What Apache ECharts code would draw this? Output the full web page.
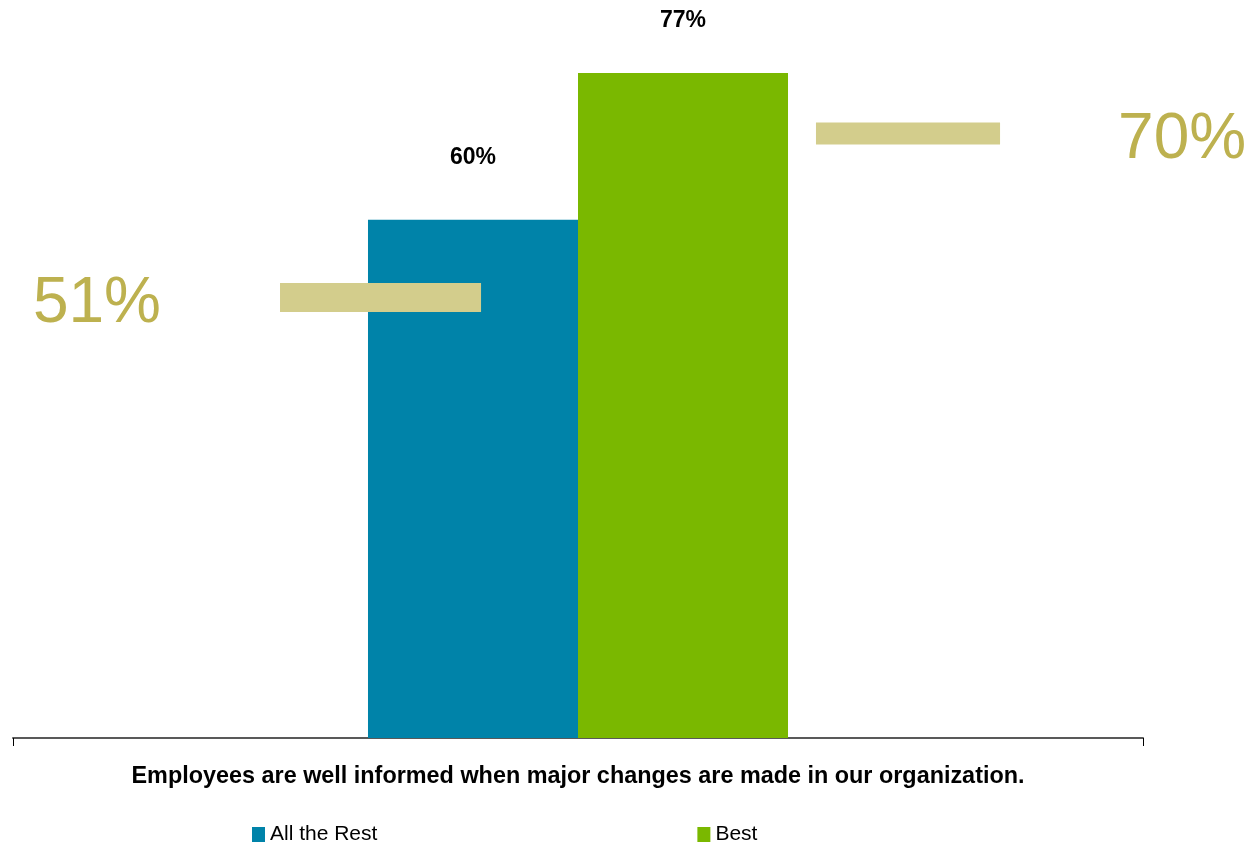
<!DOCTYPE html>
<html>
<head>
<meta charset="utf-8">
<title>Employees well informed</title>
<script src="https://cdn.jsdelivr.net/npm/echarts@6/dist/echarts.min.js"></script>
<style>
  html, body { margin: 0; padding: 0; background: #ffffff; }
  #chart { width: 1249px; height: 846px; }
</style>
</head>
<body>
<div id="chart"></div>
<script>
// Survey item and group results (percent agreeing)
const categories = ['Employees are well informed when major changes are made in our organization.'];
const seriesNames = ['All the Rest', 'Best'];
const restValues = [60];
const bestValues = [77];
// Benchmark levels shown as horizontal markers beside each group
const restBenchmark = [51];
const bestBenchmark = [70];

const FONT = '"Liberation Sans", Arial, "DejaVu Sans", sans-serif';
const BLUE = '#0083A9';
const GREEN = '#7AB800';
const TAN = '#D3CD8C';
const TAN_TEXT = '#BDB14F';

// Marker drawn as a band across a fraction of the category width
function benchmarkRenderer(fromFrac, toFrac, thickness, labelSide, labelDistance) {
  return function (params, api) {
    const v = api.value(1);
    const c = api.coord([api.value(0), v]);
    const band = api.size([1, 0])[0];
    const x1 = c[0] + band * fromFrac;
    const x2 = c[0] + band * toFrac;
    return {
      type: 'rect',
      shape: { x: x1, y: c[1] - thickness / 2, width: x2 - x1, height: thickness },
      style: { fill: TAN },
      textContent: {
        style: {
          text: v + '%',
          fill: TAN_TEXT,
          font: '64px ' + FONT
        }
      },
      textConfig: { position: labelSide, distance: labelDistance, offset: [0, 7] }
    };
  };
}

const chart = echarts.init(document.getElementById('chart'), null, { renderer: 'canvas' });

chart.setOption({
  animation: false,
  backgroundColor: '#ffffff',
  grid: { left: 13, right: 106, top: 47, bottom: 108, containLabel: false },
  legend: {
    data: seriesNames,
    left: 247,
    top: 819,
    itemWidth: 13,
    itemHeight: 15,
    itemGap: 320,
    icon: 'rect',
    textStyle: { fontFamily: FONT, fontSize: 21, color: '#000000' }
  },
  xAxis: {
    type: 'category',
    data: categories,
    boundaryGap: true,
    axisLine: { show: true, lineStyle: { color: '#595959', width: 2 } },
    axisTick: { show: true, length: 8, lineStyle: { color: '#000000', width: 1 } },
    axisLabel: {
      margin: 27,
      fontFamily: FONT,
      fontSize: 23.4,
      fontWeight: 'bold',
      color: '#000000'
    },
    splitLine: { show: false }
  },
  yAxis: {
    type: 'value',
    min: 0,
    max: 80,
    show: false,
    splitLine: { show: false }
  },
  series: [
    {
      name: seriesNames[0],
      type: 'bar',
      data: restValues,
      itemStyle: { color: BLUE },
      barGap: '0%',
      barCategoryGap: '62.83%',
      label: {
        show: true,
        position: 'top',
        distance: 51,
        formatter: '{c}%',
        fontFamily: FONT,
        fontSize: 23,
        fontWeight: 'bold',
        color: '#000000'
      },
      z: 2
    },
    {
      name: seriesNames[1],
      type: 'bar',
      data: bestValues,
      itemStyle: { color: GREEN },
      barGap: '0%',
      barCategoryGap: '62.83%',
      label: {
        show: true,
        position: 'top',
        distance: 41,
        formatter: '{c}%',
        fontFamily: FONT,
        fontSize: 23,
        fontWeight: 'bold',
        color: '#000000'
      },
      z: 2
    },
    {
      name: 'All the Rest benchmark',
      type: 'custom',
      data: restBenchmark.map((v, i) => [i, v]),
      renderItem: benchmarkRenderer(-0.2637, -0.0858, 29, 'left', 119),
      z: 5,
      silent: true
    },
    {
      name: 'Best benchmark',
      type: 'custom',
      data: bestBenchmark.map((v, i) => [i, v]),
      renderItem: benchmarkRenderer(0.2106, 0.3735, 22, 'right', 118),
      z: 5,
      silent: true
    }
  ]
});
</script>
</body>
</html>
